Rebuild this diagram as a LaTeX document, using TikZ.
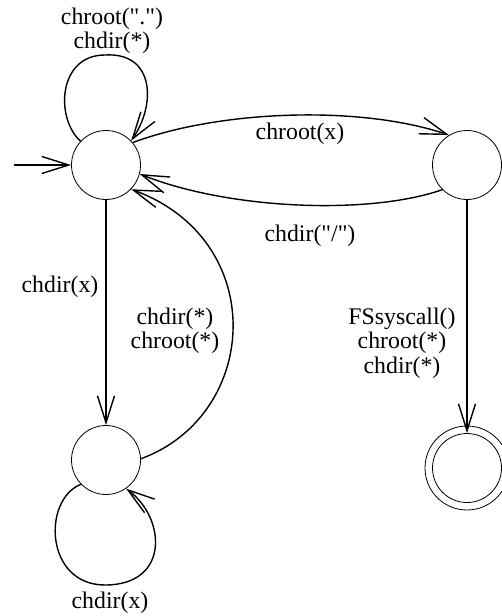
\documentclass[tikz,border=0pt]{standalone}
\usepackage{fontspec}
\setmainfont{Liberation Serif}
\usetikzlibrary{arrows.meta}
\tikzset{
  state/.style={circle, draw, line width=0.8pt, minimum size=69pt, inner sep=0pt},
  edge/.style={line width=1.4pt, -{Straight Barb[length=27pt,width=17pt,line width=1.4pt]}},
  lbl/.style={align=center, inner sep=0pt, font=\fontsize{23.8}{24.5}\selectfont}
}
\begin{document}
\begin{tikzpicture}[x=1pt,y=-1pt]
\useasboundingbox (0,0) rectangle (502,616);
% states
\node[state] (A) at (106,165) {};
\node[state] (B) at (467,165) {};
\node[state] (C) at (106,460) {};
\node[state] (D) at (467,468) {};
\draw[line width=0.8pt] (D.center) circle (42);
\coordinate (start) at (14,165);
% edges
\draw[edge] (start) -- (A.west);
\draw[edge] (A.137) .. controls (55,118) and (58,55) .. (105,55)
                     .. controls (155,52) and (156,105) .. (A.44);
\draw[edge] (A.40) .. controls (220,110) and (360,105) .. (B.121);
\draw[edge] (B.225) .. controls (370,215) and (230,210) .. (A.-15);
\draw[edge] (A.south) -- (C.north);
\draw[edge] (C.2) .. controls (260,415) and (270,240) .. (A.-44);
\draw[edge] (C.224) .. controls (42,500) and (45,585) .. (105,585)
                    .. controls (170,585) and (166,518) .. (C.-55);
\draw[edge] (B.south) -- (D.north);
% labels
\node[lbl] (l1) at (112,31) {chroot(\textquotedbl.\textquotedbl)\\chdir(*)};
\node[lbl] (l2) at (300,134) {chroot(x)};
\node[lbl] (l3) at (310,235.5) {chdir(\textquotedbl/\textquotedbl)};
\node[lbl] (l4) at (60,287) {chdir(x)};
\node[lbl] (l5) at (175,331) {chdir(*)\\chroot(*)};
\node[lbl] (l6) at (110,603) {chdir(x)};
\node[lbl] (l7) at (402,343) {FSsyscall()\\chroot(*)\\chdir(*)};
\end{tikzpicture}
\end{document}
